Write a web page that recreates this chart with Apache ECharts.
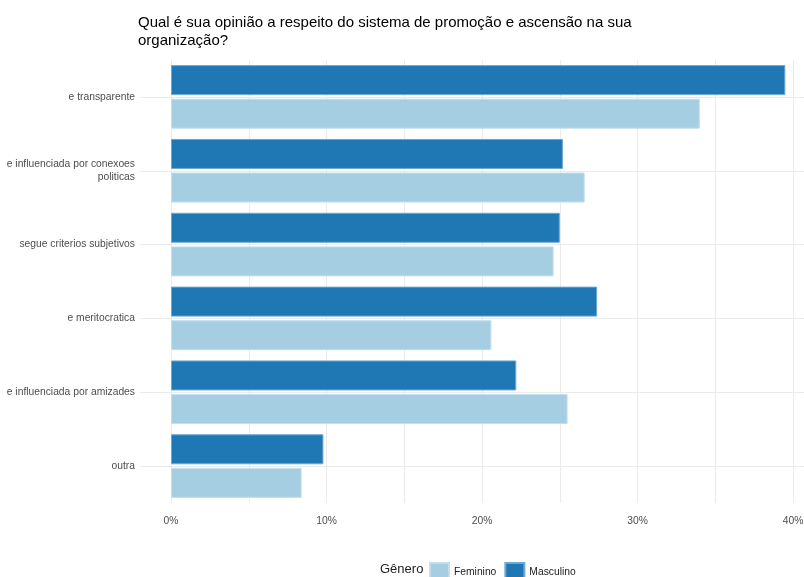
<!DOCTYPE html>
<html>
<head>
<meta charset="utf-8">
<title>Sistema de promoção</title>
<script src="https://cdn.jsdelivr.net/npm/echarts@6/dist/echarts.min.js"></script>
<style>
  html, body { margin: 0; padding: 0; background: #fff; }
  #chart { width: 804px; height: 577px; }
</style>
</head>
<body>
<div id="chart"></div>
<script>
// categorias (de cima para baixo)
var categories = [
  'e transparente',
  'e influenciada por conexoes\npoliticas',
  'segue criterios subjetivos',
  'e meritocratica',
  'e influenciada por amizades',
  'outra'
];
// percentuais
var masculino = [39.5, 25.2, 25.0, 27.4, 22.2, 9.8];
var feminino  = [34.0, 26.6, 24.6, 20.6, 25.5, 8.4];
var xTicks = [0, 10, 20, 30, 40];

// eixo auxiliar so para as linhas horizontais no centro de cada categoria
var halfSteps = [];
for (var i = 0; i <= categories.length * 2; i++) halfSteps.push(String(i));

var font = '"Liberation Sans", Arial, sans-serif';
var gridColor = '#ebebeb';

var myChart = echarts.init(document.getElementById('chart'));

var option = {
    animation: false,
    textStyle: { fontFamily: font },
    title: [{
        text: 'Qual é sua opinião a respeito do sistema de promoção e ascensão na sua\norganização?',
        left: 133,
        top: 9,
        textStyle: { fontSize: 15, fontWeight: 'normal', color: '#000', lineHeight: 18, fontFamily: font }
    }, {
        text: 'Gênero',
        left: 375,
        top: 558,
        textStyle: { fontSize: 13, fontWeight: 'normal', color: '#222', fontFamily: font }
    }],
    legend: {
        data: ['Feminino', 'Masculino'],
        left: 424,
        top: 557,
        itemWidth: 19,
        itemHeight: 18,
        itemGap: 8,
        icon: 'rect',
        textStyle: { fontSize: 10.3, color: '#222', fontFamily: font }
    },
    grid: { left: 171, right: 0, top: 60, bottom: 74, containLabel: false, outerBoundsMode: 'none' },
    xAxis: {
        type: 'value',
        min: 0,
        max: 40.7,
        interval: 5,
        axisLine: { show: false },
        axisTick: { show: false },
        axisLabel: {
            margin: 13,
            fontSize: 10.3,
            color: '#4d4d4d',
            formatter: function (v) {
                return xTicks.indexOf(v) >= 0 ? v + '%' : '';
            }
        },
        splitLine: { show: true, lineStyle: { color: gridColor, width: 1 } }
    },
    yAxis: [{
        type: 'category',
        data: categories,
        inverse: true,
        axisLine: { show: false },
        axisTick: { show: true, alignWithLabel: true, length: 31, lineStyle: { color: gridColor } },
        axisLabel: { margin: 36, fontSize: 10.3, color: '#4d4d4d', lineHeight: 13, align: 'right' },
        splitLine: { show: false }
    }, {
        type: 'category',
        data: halfSteps,
        boundaryGap: false,
        position: 'left',
        axisLine: { show: false },
        axisTick: { show: false },
        axisLabel: { show: false },
        splitLine: {
            show: true,
            interval: function (idx) { return idx % 2 === 1; },
            lineStyle: { color: gridColor, width: 1 }
        }
    }],
    series: [{
        name: 'Masculino',
        type: 'bar',
        data: masculino,
        barWidth: 30,
        barGap: '12%',
        itemStyle: { color: '#1f78b4', borderColor: '#6ea8d0', borderWidth: 1 }
    }, {
        name: 'Feminino',
        type: 'bar',
        data: feminino,
        barWidth: 30,
        itemStyle: { color: '#a6cee3', borderColor: '#c3dfed', borderWidth: 1 }
    }]
};

myChart.setOption(option);
</script>
</body>
</html>
